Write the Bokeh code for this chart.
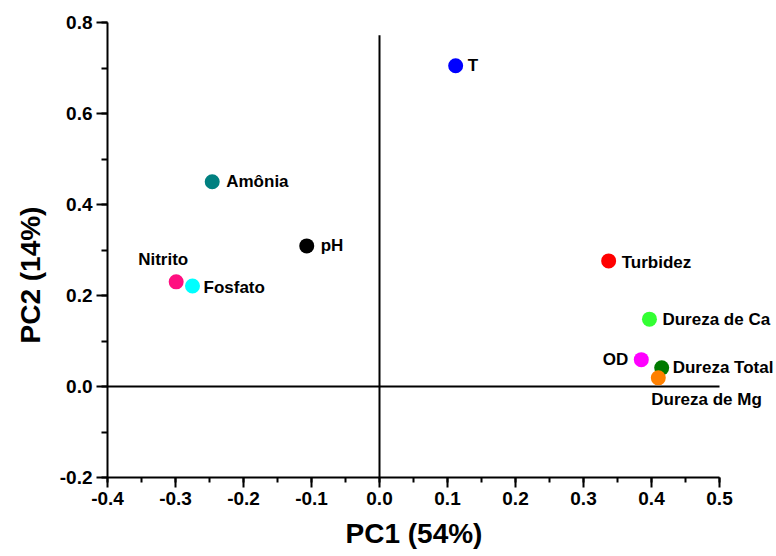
from bokeh.plotting import figure
from bokeh.models import (ColumnDataSource, Range1d, SingleIntervalTicker,
                          NumeralTickFormatter, LabelSet, Title)
from bokeh.core.properties import value
from bokeh.embed import file_html
from bokeh.resources import INLINE

# ---- data ----
variables = ["T", "Amônia", "pH", "Nitrito", "Fosfato", "Turbidez",
             "Dureza de Ca", "OD", "Dureza Total", "Dureza de Mg"]
pc1 = [0.112, -0.246, -0.107, -0.299, -0.275, 0.337, 0.397, 0.385, 0.415, 0.410]
pc2 = [0.705, 0.450, 0.309, 0.230, 0.221, 0.276, 0.148, 0.059, 0.041, 0.019]
colors = ["#0000ff", "#008080", "#000000", "#ff0f80", "#00ffff", "#ff0000",
          "#33ff33", "#ff00ff", "#007a00", "#ff8000"]

x_title = "PC1 (54%)"
y_title = "PC2 (14%)"

# label placement (style): x offset px, y offset px (up positive), align
label_dx = [12, 14, 14, -13, 11, 13, 13, -13, 11, -7]
label_dy = [0, 0, 0, 22, -2, -2, 0, 0, 0, -22]
label_align = ["left", "left", "left", "center", "left", "left", "left", "right", "left", "left"]

FONT = "Liberation Sans"

src = ColumnDataSource(dict(x=pc1, y=pc2, name=variables, color=colors,
                            dx=label_dx, dy=label_dy, align=label_align))

# x range extends past 0.5 so right-hand labels are not clipped; axis is bounded to 0.5
p = figure(width=776, height=556, x_range=Range1d(-0.4, 0.5 + 57 / 680), y_range=Range1d(-0.2, 0.8),
           output_backend="svg", toolbar_location=None,
           min_border_left=107, min_border_right=0, min_border_top=22, min_border_bottom=79)
p.background_fill_color = "white"
p.border_fill_color = "white"
p.outline_line_color = None
p.xgrid.grid_line_color = None
p.ygrid.grid_line_color = None

# zero lines
p.segment(x0=[-0.4], y0=[0.0], x1=[0.5], y1=[0.0], line_color="black", line_width=2)
p.segment(x0=[0.0], y0=[-0.2], x1=[0.0], y1=[0.772], line_color="black", line_width=2)

p.scatter("x", "y", source=src, size=15, fill_color="color", line_color=None)

labels = LabelSet(x="x", y="y", text="name", source=src, x_offset="dx", y_offset="dy",
                  text_align="align", text_baseline="middle",
                  text_font=value(FONT), text_font_style="bold", text_font_size="17px",
                  text_color="black")
p.add_layout(labels)

for ax in (p.xaxis[0], p.yaxis[0]):
    ax.axis_line_width = 2
    ax.axis_line_color = "black"
    ax.major_tick_line_width = 2
    ax.minor_tick_line_width = 2
    ax.major_tick_in = 0
    ax.minor_tick_in = 0
    ax.major_label_text_font = FONT
    ax.major_label_text_font_style = "bold"
    ax.major_label_text_font_size = "19px"
    ax.major_label_text_color = "black"
    ax.formatter = NumeralTickFormatter(format="0.0")

p.xaxis.bounds = (-0.4, 0.5)
p.xaxis.ticker = SingleIntervalTicker(interval=0.1, num_minor_ticks=2)
p.yaxis.ticker = SingleIntervalTicker(interval=0.2, num_minor_ticks=2)
p.xaxis.major_tick_out = 10
p.xaxis.minor_tick_out = 5
p.yaxis.major_tick_out = 11
p.yaxis.minor_tick_out = 6
p.xaxis.major_label_standoff = 4
p.yaxis.major_label_standoff = 4

xtitle = Title(text=x_title, align="left", offset=238, standoff=16,
               text_font=FONT, text_font_style="bold", text_font_size="28px",
               text_color="black")
p.add_layout(xtitle, "below")

ytitle = Title(text=y_title, align="left", offset=134, standoff=21,
               text_font=FONT, text_font_style="bold", text_font_size="28px",
               text_color="black")
p.add_layout(ytitle, "left")

open("out.html", "w").write(file_html(p, INLINE))
